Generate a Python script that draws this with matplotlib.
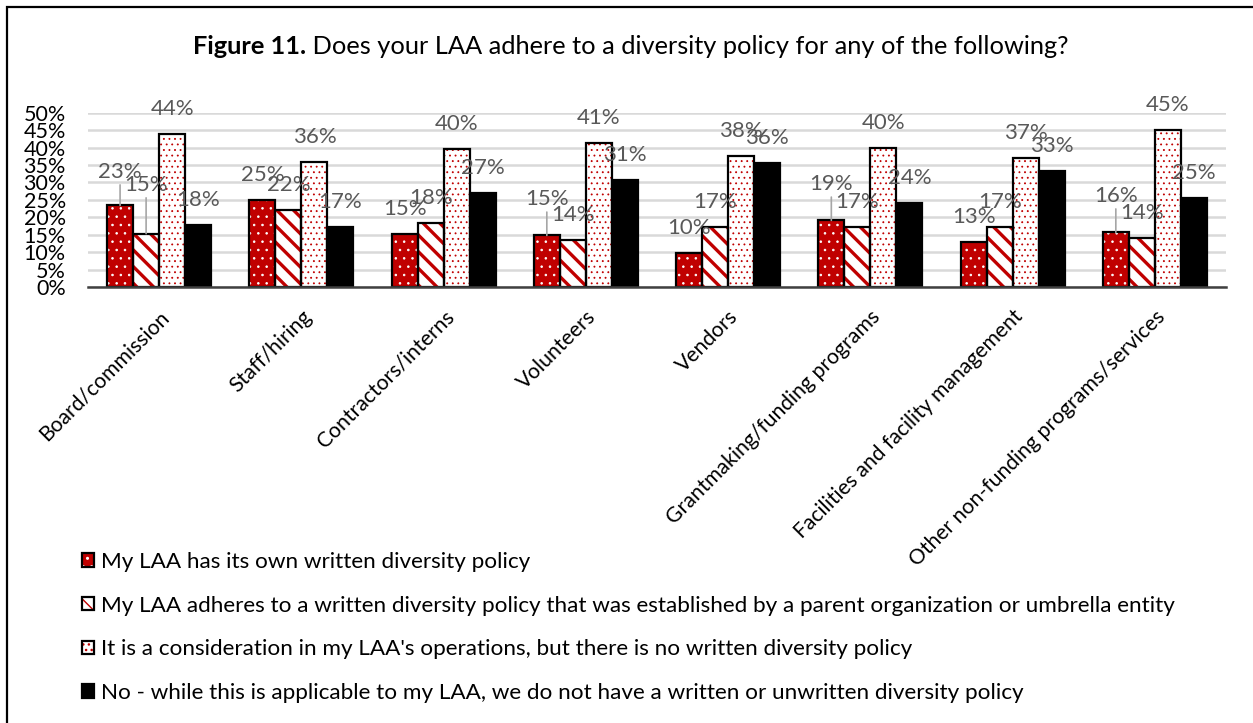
import numpy as np
import matplotlib.pyplot as plt
from matplotlib.patches import Rectangle
from matplotlib.offsetbox import TextArea, HPacker, AnchoredOffsetbox

plt.rcParams['font.family'] = ['Lato', 'DejaVu Sans']

categories = ["Board/commission", "Staff/hiring", "Contractors/interns", "Volunteers",
              "Vendors", "Grantmaking/funding programs", "Facilities and facility management",
              "Other non-funding programs/services"]
series_names = ["My LAA has its own written diversity policy",
                "My LAA adheres to a written diversity policy that was established by a parent organization or umbrella entity",
                "It is a consideration in my LAA's operations, but there is no written diversity policy",
                "No - while this is applicable to my LAA, we do not have a written or unwritten diversity policy"]
own = [23.4, 25.0, 15.2, 14.8, 9.7, 19.1, 12.8, 15.7]
parent = [15.3, 22.2, 18.4, 13.6, 17.2, 17.2, 17.2, 14.0]
consideration = [43.8, 36.0, 39.6, 41.3, 37.7, 39.9, 37.1, 45.1]
no_policy = [17.7, 17.2, 26.9, 30.7, 35.7, 24.2, 33.2, 25.4]
yticks = [0, 5, 10, 15, 20, 25, 30, 35, 40, 45, 50]

RED = '#C00000'
# (face, hatch, hatch colour, hatch linewidth)
styles = [
    (RED, '..', 'white', 0.6),
    ('white', '\\\\', RED, 2.4),
    ('white', '...', RED, 0.6),
    ('black', '', 'black', 1.0),
]
# extra lift (points) for labels Excel moved out of the way: (series, group) -> lift
moved = {(0, 0): 6, (1, 0): 17, (0, 3): 8, (0, 5): 8, (0, 7): 8}

fig = plt.figure(figsize=(12.53, 7.23), dpi=100)
ax = fig.add_axes([88 / 1253, 1 - 287 / 723, (1226 - 88) / 1253, (287 - 112.7) / 723])

x = np.arange(len(categories))
w = 0.183
handles = []
for k, vals in enumerate([own, parent, consideration, no_policy]):
    face, hatch, hcol, hlw = styles[k]
    pos = x + (k - 1.5) * w
    with plt.rc_context({'hatch.linewidth': hlw}):
        b1 = ax.bar(pos, vals, w, color=face, edgecolor=hcol, hatch=hatch, linewidth=0, zorder=2)
    b2 = ax.bar(pos, vals, w, fill=False, edgecolor='black', linewidth=1.6, zorder=3)
    handles.append((b1.patches[0], b2.patches[0]))
    for i, v in enumerate(vals):
        lift = moved.get((k, i), 0)
        props = None
        if lift:
            props = dict(arrowstyle='-', color='#A6A6A6', lw=1.2, shrinkA=0, shrinkB=0)
        ax.annotate(f"{round(v):.0f}%", (pos[i], v), xytext=(0, 18 + lift),
                    textcoords='offset points', ha='center', va='center',
                    fontsize=16, color='#595959', arrowprops=props, zorder=4)

ax.set_xlim(-0.5, len(categories) - 0.5)
ax.set_ylim(0, 50)
ax.set_yticks(yticks)
ax.set_yticklabels([f"{t}%" for t in yticks], fontsize=15.5)
ax.yaxis.grid(True, color='#D9D9D9', linewidth=1.8, zorder=0)
ax.set_axisbelow(True)
ax.tick_params(axis='y', length=0, pad=16)
ax.tick_params(axis='x', length=0, pad=14)
ax.set_xticks(x)
ax.set_xticklabels(categories, rotation=45, ha='right', va='top', rotation_mode='anchor', fontsize=15.2)
for s in ['left', 'right', 'top']:
    ax.spines[s].set_visible(False)
ax.spines['bottom'].set_color('#404040')
ax.spines['bottom'].set_linewidth(1.8)
ax.spines['bottom'].set_zorder(5)

# title: bold prefix + normal text
t1 = TextArea("Figure 11.", textprops=dict(fontweight='bold', fontsize=18.3))
t2 = TextArea(" Does your LAA adhere to a diversity policy for any of the following?",
              textprops=dict(fontsize=18.3))
box = HPacker(children=[t1, t2], align='baseline', pad=0, sep=0)
fig.add_artist(AnchoredOffsetbox(loc='center', child=box, frameon=False, pad=0, borderpad=0,
                                 bbox_to_anchor=(631 / 1253, 1 - 46 / 723),
                                 bbox_transform=fig.transFigure))

fig.legend(handles, series_names, loc='upper left', bbox_to_anchor=(82 / 1253, 1 - 552 / 723),
           frameon=False, fontsize=16.2, handlelength=0.55, handleheight=0.55,
           handletextpad=0.3, labelspacing=1.05, borderpad=0, borderaxespad=0)

# outer frame (runs off the right and bottom edges)
fig.add_artist(Rectangle((7 / 1253, -0.05), 1.1, 1 - 7 / 723 + 0.05, transform=fig.transFigure,
                         fill=False, edgecolor='black', linewidth=1.6))

fig.savefig("out.png", dpi=100)
